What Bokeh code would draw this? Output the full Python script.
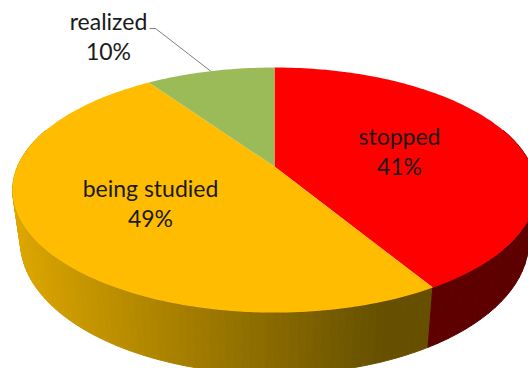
import math
from bokeh.core.properties import value
from bokeh.embed import file_html
from bokeh.models import ColumnDataSource
from bokeh.plotting import figure
from bokeh.resources import INLINE

# Slices run clockwise from twelve o'clock
categories = ["stopped", "being studied", "realized"]
shares = [41, 49, 10]
top_colors = ["#FF0000", "#FFBC00", "#9BBB59"]

# Label anchors: centre x, middle y of the name line
label_x = [399, 150, 108]
label_y = [135, 187, 20]
line_gap = 30

# Perspective disc on the page
CX, CY = 274.0, 166.0
HALF_W, HALF_H, TILT = 257.0, 118.0, 0.192
TWIST = 0.0044
DEPTH, SHRINK_X, STRETCH_Y = 50.0, 0.97, 1.08

W, H = 528, 368


def top_point(turn):
    """Page position of the rim at a fraction of a full clockwise turn."""
    a = 2 * math.pi * (turn - TWIST * math.sin(4 * math.pi * turn))
    u, v = math.sin(a), math.cos(a)
    d = 1 + TILT * v
    return CX + HALF_W * u / d, CY - HALF_H * v / d


def bottom_point(turn):
    x, y = top_point(turn)
    return CX + (x - CX) * SHRINK_X, CY + (y - CY) * STRETCH_Y + DEPTH


def mix(c0, c1, t):
    t = max(0.0, min(1.0, t))
    return "#%02x%02x%02x" % tuple(round(a + (b - a) * t) for a, b in zip(c0, c1))


p = figure(width=W, height=H, x_range=(0, W), y_range=(H, 0),
           output_backend="svg", toolbar_location=None, min_border=0,
           outline_line_color=None, background_fill_color="white",
           border_fill_color="white")
p.axis.visible = False
p.grid.visible = False

total = sum(shares)
edges = [0.0]
for s in shares:
    edges.append(edges[-1] + s / total)

# Rim wall: thin strips, shaded by horizontal position
STEPS = 90
xs, ys, cols = [], [], []
wall_start = edges[1]
wall_end = 0.80
for i in range(STEPS):
    t0 = wall_start + (wall_end - wall_start) * i / STEPS
    t1 = wall_start + (wall_end - wall_start) * (i + 1) / STEPS
    a, b = top_point(t0), top_point(t1)
    c, d = bottom_point(t1), bottom_point(t0)
    xs.append([a[0], b[0], c[0], d[0]])
    ys.append([a[1], b[1], c[1], d[1]])
    shade = (a[0] - 15) / (385 - 15)
    cols.append(mix((220, 166, 0), (102, 80, 0), shade))
STEPS_R = 30
for i in range(STEPS_R):
    t0 = 0.20 + (edges[1] - 0.20) * i / STEPS_R
    t1 = 0.20 + (edges[1] - 0.20) * (i + 1) / STEPS_R
    a, b = top_point(t0), top_point(t1)
    c, d = bottom_point(t1), bottom_point(t0)
    xs.append([a[0], b[0], c[0], d[0]])
    ys.append([a[1], b[1], c[1], d[1]])
    cols.append("#5e0000")
wall = ColumnDataSource(dict(xs=xs, ys=ys, color=cols))
p.patches("xs", "ys", source=wall, fill_color="color", line_color="color", line_width=1)

# Top face, one wedge per category
fx, fy = [], []
for i in range(len(shares)):
    n = max(4, int(shares[i] * 3))
    rim = [top_point(edges[i] + (edges[i + 1] - edges[i]) * k / n) for k in range(n + 1)]
    fx.append([CX] + [q[0] for q in rim])
    fy.append([CY] + [q[1] for q in rim])
faces = ColumnDataSource(dict(xs=fx, ys=fy, color=top_colors, name=categories))
p.patches("xs", "ys", source=faces, fill_color="color", line_color=None)

# Leader from the outside label to the middle of its slice
mid = top_point((edges[2] + edges[3]) / 2)
p.line([label_x[2] + 41, label_x[2] + 47, mid[0]], [label_y[2] + 8, label_y[2] + 8, mid[1]],
       line_color="#7f7f7f", line_width=1)

# Two-line labels: category and percentage
tx, ty, tt = [], [], []
for name, s, x, y in zip(categories, shares, label_x, label_y):
    tx += [x, x]
    ty += [y, y + line_gap]
    tt += [name, f"{s}%"]
labels = ColumnDataSource(dict(x=tx, y=ty, text=tt))
p.text("x", "y", text="text", source=labels, text_font=value("Lato"),
       text_font_size="23px", text_color="#1a1a1a", text_align="center",
       text_baseline="middle")

open("out.html", "w").write(file_html(p, INLINE))
